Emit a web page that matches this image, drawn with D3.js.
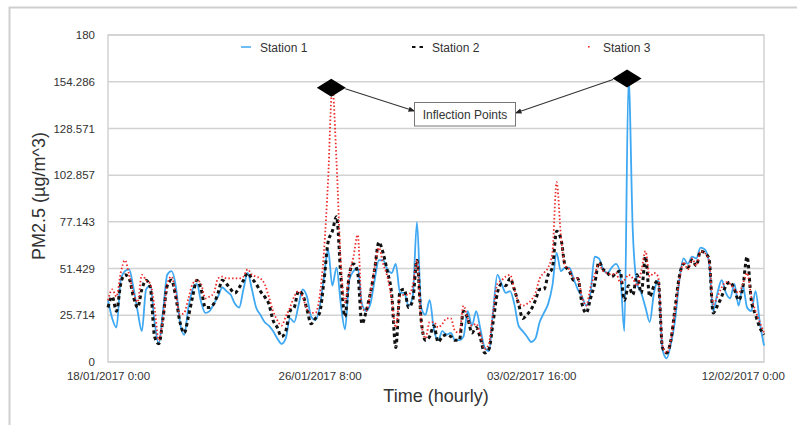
<!DOCTYPE html>
<html>
<head>
<meta charset="utf-8">
<script src="https://cdn.jsdelivr.net/npm/d3@7"></script>
<style>
  html, body { margin: 0; padding: 0; background: #fff; }
  svg { display: block; }
  text { font-family: "Liberation Sans", Arial, Helvetica, sans-serif; fill: #333; }
</style>
</head>
<body>
<svg id="chart" width="797" height="425"></svg>
<script>
// ---------- data ----------
const startTime = new Date(2017, 0, 18, 0, 0);
const stepHours = 4;            // sampling interval of the series below
const totalHours = 620;         // length of the time axis
const tickHours = [0, 200, 400, 600];
const tickLabels = ["18/01/2017 0:00", "26/01/2017 8:00", "03/02/2017 16:00", "12/02/2017 0:00"];
const yTicks = [0, 25.714, 51.429, 77.143, 102.857, 128.571, 154.286, 180];
const seriesNames = ["Station 1", "Station 2", "Station 3"];

const station1 = [34,24,19,45,50,51,41,28,17,40,42,22,10,28,48,50,42,22,15,30,
  40,43,33,27,28,32,36,41,39,37,32,30,40,49,40,30,26,22,20,17,
  13,10,13,24,22,31,40,36,25,23,30,46,62,42,52,32,18,45,50,52,
  32,28,32,45,56,56,51,49,54,38,38,31,36,77,30,26,34,18,12,17,
  15,16,12,12,14,28,20,28,18,8,6,28,48,43,38,39,32,20,17,14,
  11,13,22,27,32,42,60,50,52,52,46,40,36,31,38,58,57,51,49,52,
  54,49,17,156,72,43,38,30,22,38,45,7,2,10,23,45,57,54,58,57,
  63,62,55,28,38,45,38,35,43,31,42,30,28,39,22,9];

const station2 = [30,36,28,43,48,46,36,30,40,45,41,14,10,24,42,45,36,22,16,25,
  36,45,40,30,30,32,38,45,43,40,38,41,45,49,46,43,39,36,32,23,
  19,14,17,28,30,39,37,29,21,24,27,44,66,72,80,48,25,48,54,49,
  21,28,38,51,66,60,50,38,8,39,40,30,34,56,23,12,14,20,11,14,
  15,14,12,12,28,24,16,19,13,5,7,22,38,43,42,46,40,32,24,26,
  29,34,40,40,48,52,72,68,53,50,45,46,32,27,35,43,55,51,49,47,
  49,50,34,42,37,48,38,58,36,42,45,8,5,12,30,47,54,52,56,53,
  61,60,57,27,31,36,42,44,40,34,41,58,34,26,19,15];

const station3 = [34,40,36,49,56,48,38,33,48,45,43,30,12,24,43,47,38,26,27,35,
  43,45,43,35,36,38,46,47,46,46,46,46,47,51,48,47,46,43,36,28,
  23,20,25,30,36,39,36,29,27,27,36,60,100,151,110,55,33,48,58,70,
  30,28,38,52,63,54,47,35,19,36,37,37,42,56,22,13,22,22,19,21,
  24,24,17,16,31,24,20,21,15,7,10,28,43,45,47,48,40,33,31,32,
  34,38,46,49,52,60,99,70,53,51,46,46,36,31,41,48,54,50,49,48,
  49,44,45,48,46,42,50,61,47,49,47,9,5,12,29,45,55,51,57,53,
  61,60,56,32,36,41,44,43,40,38,43,49,36,28,22,16];

// ---------- layout ----------
const svg = d3.select("#chart");
const m = { left: 108, top: 35, right: 764, bottom: 362 };

const timeAt = h => new Date(startTime.getTime() + h * 3600 * 1000);
const x = d3.scaleTime()
  .domain([timeAt(0), timeAt(totalHours)])
  .range([m.left, m.right]);
const y = d3.scaleLinear().domain([0, 180]).range([m.bottom, m.top]);

// outer frame
svg.append("path")
  .attr("d", "M9.5,425 L9.5,7.5 L797,7.5")
  .attr("fill", "none").attr("stroke", "#cfcfcf").attr("stroke-width", 2);

// gridlines
svg.append("g").selectAll("line").data(yTicks).join("line")
  .attr("x1", m.left).attr("x2", m.right)
  .attr("y1", d => y(d)).attr("y2", d => y(d))
  .attr("stroke", "#d2d2d2").attr("stroke-width", 1.5);

// plot border
svg.append("rect")
  .attr("x", m.left).attr("y", m.top)
  .attr("width", m.right - m.left).attr("height", m.bottom - m.top)
  .attr("fill", "none").attr("stroke", "#d2d2d2").attr("stroke-width", 1.5);

// y axis
const yAxis = d3.axisLeft(y).tickValues(yTicks).tickSize(0).tickPadding(13)
  .tickFormat(d => d === 0 ? "0" : String(d));
const gy = svg.append("g").attr("transform", `translate(${m.left},0)`).call(yAxis);
gy.select(".domain").remove();
gy.selectAll("text").attr("font-size", "11.5px").style("font-family", "Liberation Sans, Arial, sans-serif").attr("fill", "#333");

// x axis
const xAxis = d3.axisBottom(x).tickValues(tickHours.map(timeAt)).tickSize(0).tickPadding(10)
  .tickFormat((d, i) => tickLabels[i]);
const gx = svg.append("g").attr("transform", `translate(0,${m.bottom})`).call(xAxis);
gx.select(".domain").remove();
gx.selectAll("text").attr("font-size", "11.5px").style("font-family", "Liberation Sans, Arial, sans-serif").attr("fill", "#333");

// axis titles
svg.append("text").attr("x", 436).attr("y", 402).attr("text-anchor", "middle")
  .attr("font-size", "18px").text("Time (hourly)");
svg.append("text").attr("transform", "translate(45,196) rotate(-90)")
  .attr("text-anchor", "middle").attr("font-size", "18px").text("PM2.5 (µg/m^3)");

// series
const toPoints = arr => arr.map((v, i) => ({ t: timeAt(i * stepHours), v }));
const line = d3.line().x(d => x(d.t)).y(d => y(d.v)).curve(d3.curveMonotoneX);

const styles = [
  { data: station1, stroke: "#3ea8f2", width: 1.8, dash: null },
  { data: station2, stroke: "#111", width: 3, dash: "3.5,3" },
  { data: station3, stroke: "#ee2a2a", width: 1.8, dash: "1.5,2.2" }
];
styles.forEach(s => {
  svg.append("path").datum(toPoints(s.data))
    .attr("d", line).attr("fill", "none")
    .attr("stroke", s.stroke).attr("stroke-width", s.width)
    .attr("stroke-dasharray", s.dash).attr("stroke-linejoin", "round");
});

// legend
const legend = [
  { name: seriesNames[0], lx: 241, tx: 260 },
  { name: seriesNames[1], lx: 412, tx: 432 },
  { name: seriesNames[2], lx: 588, tx: 603 }
];
legend.forEach((l, i) => {
  const s = styles[i];
  if (i === 0) {
    svg.append("line").attr("x1", l.lx).attr("x2", l.lx + 10).attr("y1", 47).attr("y2", 47)
      .attr("stroke", s.stroke).attr("stroke-width", 1.5);
  } else if (i === 1) {
    svg.append("line").attr("x1", l.lx).attr("x2", l.lx + 12).attr("y1", 47).attr("y2", 47)
      .attr("stroke", s.stroke).attr("stroke-width", 2.2).attr("stroke-dasharray", "3.5,4");
  } else {
    svg.append("rect").attr("x", l.lx).attr("y", 46).attr("width", 1.6).attr("height", 1.6)
      .attr("fill", s.stroke);
  }
  svg.append("text").attr("x", l.tx).attr("y", 51.5).attr("font-size", "12px").text(l.name);
});

// annotation: inflection points at the peaks of Station 3 and Station 1
const peak3 = d3.maxIndex(station3);
const peak1 = d3.maxIndex(station1);
const p3 = { x: x(timeAt(peak3 * stepHours)) - 1, y: y(station3[peak3]) };
const p1 = { x: x(timeAt(peak1 * stepHours)) - 1.5, y: y(station1[peak1]) };

svg.append("defs").append("marker").attr("id", "arr")
  .attr("viewBox", "0 0 10 10").attr("refX", 9).attr("refY", 5)
  .attr("markerWidth", 6).attr("markerHeight", 6).attr("orient", "auto")
  .append("path").attr("d", "M0,1 L10,5 L0,9 Z").attr("fill", "#222");

const box = { x: 414.5, y: 102.5, w: 101, h: 23.5 };
svg.append("line").attr("x1", p3.x + 14).attr("y1", p3.y + 1).attr("x2", box.x).attr("y2", box.y + 8.5)
  .attr("stroke", "#333").attr("stroke-width", 1.1).attr("marker-end", "url(#arr)");
svg.append("line").attr("x1", p1.x - 14).attr("y1", p1.y + 1).attr("x2", box.x + box.w).attr("y2", box.y + 10.5)
  .attr("stroke", "#333").attr("stroke-width", 1.1).attr("marker-end", "url(#arr)");

[p3, p1].forEach(p => {
  svg.append("path")
    .attr("d", `M${p.x - 14.5},${p.y} L${p.x},${p.y - 9} L${p.x + 14.5},${p.y} L${p.x},${p.y + 9} Z`)
    .attr("fill", "#000");
});

svg.append("rect").attr("x", box.x).attr("y", box.y).attr("width", box.w).attr("height", box.h)
  .attr("fill", "#fff").attr("stroke", "#777").attr("stroke-width", 1);
svg.append("text").attr("x", box.x + box.w / 2).attr("y", box.y + 16.5).attr("text-anchor", "middle")
  .attr("font-size", "12px").text("Inflection Points");
</script>
</body>
</html>
